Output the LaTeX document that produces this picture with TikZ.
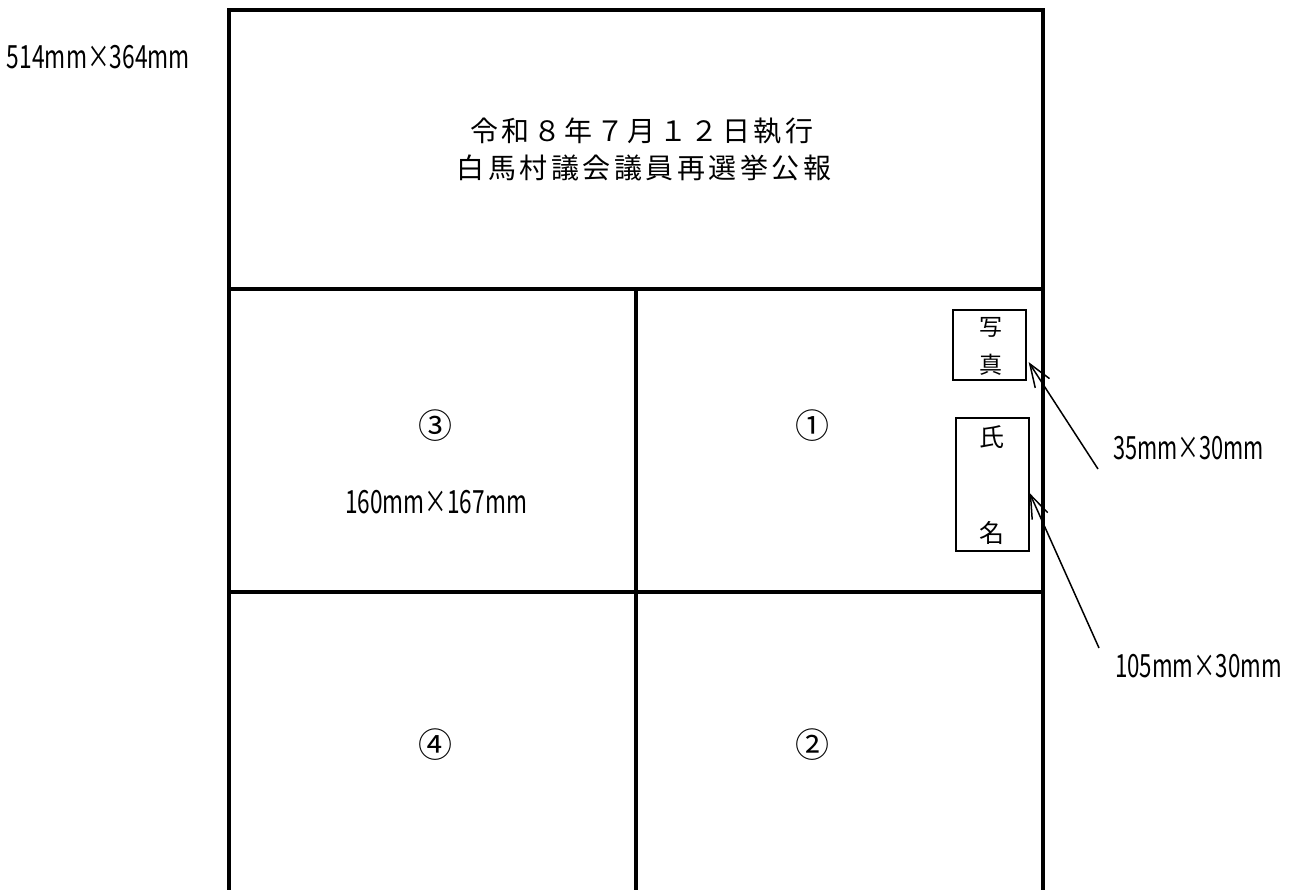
\documentclass[tikz,border=0pt]{standalone}
\usepackage{fontspec}
\usepackage{graphicx}
\newfontfamily\jp{Noto Sans CJK JP}
\newfontfamily\jpsp[LetterSpace=12.5]{Noto Sans CJK JP}
\usetikzlibrary{arrows.meta,calc}
\newcommand\fitw[2]{\resizebox{#1}{\height}{#2}}
\begin{document}
\begin{tikzpicture}[x=1pt,y=-1pt,
  frame/.style={line width=3.2pt,line join=miter},
  smallbox/.style={draw,line width=1.3pt,minimum width=73pt,inner sep=0pt},
  titletext/.style={font=\jpsp\fontsize{28}{28}\selectfont,inner sep=0pt},
  dimtext/.style={font=\jp\fontsize{32}{32}\selectfont,inner sep=0pt},
  numtext/.style={font=\jp\fontsize{34}{34}\selectfont,inner sep=0pt},
  boxtext/.style={font=\jp\fontsize{23}{23}\selectfont,inner sep=0pt},
  leader/.style={line width=1.5pt,-{Straight Barb[length=23pt,width=17pt]}}]
\useasboundingbox (0,0) rectangle (1297,889);
% frame and grid
\draw[frame] (229,892) -- (229,10) -- (1043,10) -- (1043,892);
\draw[frame] (229,289) -- (1043,289);
\draw[frame] (229,592) -- (1043,592);
\draw[frame] (636,289) -- (636,892);
% title
\node[titletext] (t1) at (641.5,131) {令和８年７月１２日執行};
\node[titletext] (t2) at (644,168) {白馬村議会議員再選挙公報};
% size labels
\node[dimtext] (size) at (98.5,57) {\fitw{183pt}{514mm×364mm}};
\node[dimtext] (cellsize) at (436,502) {\fitw{182pt}{160mm×167mm}};
\node[dimtext] (photosize) at (1188.5,448) {\fitw{151pt}{35mm×30mm}};
\node[dimtext] (namesize) at (1198.5,666) {\fitw{167pt}{105mm×30mm}};
% cell numbers
\node[numtext] (n3) at (435,426) {③};
\node[numtext] (n1) at (812,426) {①};
\node[numtext] (n4) at (435,745) {④};
\node[numtext] (n2) at (812,745) {②};
% photo and name boxes
\node[smallbox,minimum height=70pt] (photo) at (989.5,345) {};
\node[boxtext] (ph1) at (991,327) {写};
\node[boxtext] (ph2) at (991,365) {真};
\node[smallbox,minimum height=133pt] (name) at (992.5,484.5) {};
\node[boxtext,font=\jp\fontsize{25}{25}\selectfont] (nm1) at (992,437) {氏};
\node[boxtext,font=\jp\fontsize{25}{25}\selectfont] (nm2) at (992,533) {名};
% leaders
\coordinate (a1) at (1098,469);
\coordinate (a2) at (1099,648);
\draw[leader] (a1) -- ($($(photo.north east)!0.74!(photo.south east)$)+(2,0)$);
\draw[leader] (a2) -- ($(name.north east)!0.564!(name.south east)$);
\end{tikzpicture}
\end{document}
